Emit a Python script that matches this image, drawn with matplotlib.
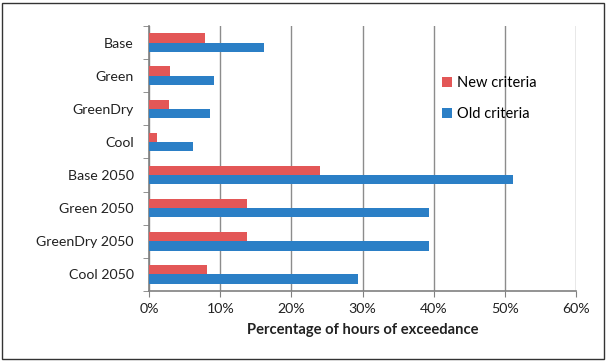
import numpy as np
import matplotlib
matplotlib.use("Agg")
import matplotlib.pyplot as plt
from matplotlib.patches import Rectangle

# ---------- DATA ----------
scenarios = ["Base", "Green", "GreenDry", "Cool",
             "Base 2050", "Green 2050", "GreenDry 2050", "Cool 2050"]
new_criteria = [7.9, 3.0, 2.8, 1.1, 24.0, 13.8, 13.8, 8.1]
old_criteria = [16.2, 9.2, 8.5, 6.2, 51.1, 39.4, 39.4, 29.3]
x_ticks = [0, 10, 20, 30, 40, 50, 60]

RED = "#E35757"
BLUE = "#2B7FC6"
TXT = "#222222"

plt.rcParams["font.family"] = ["Lato", "DejaVu Sans"]

fig = plt.figure(figsize=(6.07, 3.61), dpi=100)
ax = fig.add_axes([0.2455, 0.194, 0.7035, 0.734])

ind = np.arange(len(scenarios))
h = 0.28
ax.barh(ind - h / 2, new_criteria, height=h, color=RED, label="New criteria", zorder=3)
ax.barh(ind + h / 2, old_criteria, height=h, color=BLUE, label="Old criteria", zorder=3)

ax.set_xlim(0, 60)
ax.set_ylim(len(scenarios) - 0.5, -0.5)
ax.set_xticks(x_ticks)
ax.set_xticklabels([f"{t}%" for t in x_ticks], fontsize=10.2, color=TXT)
ax.set_yticks(ind)
ax.set_yticklabels(scenarios, fontsize=10.2, color=TXT)
ax.set_yticks(np.arange(len(scenarios) + 1) - 0.5, minor=True)
ax.tick_params(axis="y", which="major", length=0, pad=11)
ax.tick_params(axis="y", which="minor", length=4, color="#808080")
ax.tick_params(axis="x", length=4, color="#808080", pad=4.5)

ax.grid(axis="x", color="#8c8c8c", linewidth=1, zorder=0)
for s in ["top", "right"]:
    ax.spines[s].set_visible(False)
for s in ["left", "bottom"]:
    ax.spines[s].set_color("#808080")
    ax.spines[s].set_linewidth(1.2)

ax.set_xlabel("Percentage of hours of exceedance", fontsize=10.6, fontweight="bold",
              color=TXT, labelpad=6)

ax.legend(loc="upper left", bbox_to_anchor=(0.655, 0.86), frameon=False,
          fontsize=10.5, handlelength=0.7, handleheight=0.7, handletextpad=0.35,
          labelspacing=1.15)

fig.patches.append(Rectangle((0.004, 0.006), 0.991, 0.987, transform=fig.transFigure,
                             fill=False, edgecolor="#333333", linewidth=1))

fig.savefig("out.png", dpi=100)
